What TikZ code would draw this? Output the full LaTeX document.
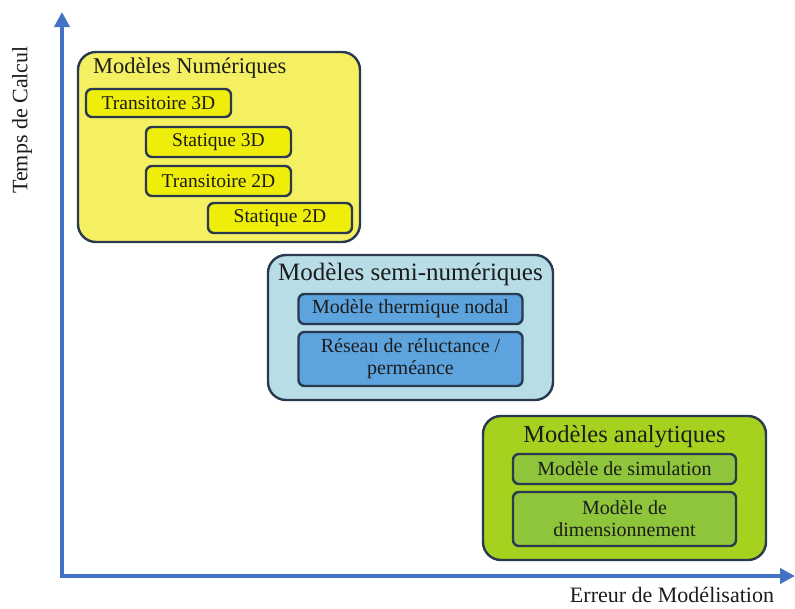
\documentclass[tikz,border=0pt]{standalone}
\usepackage{fontspec}
\setmainfont{Liberation Serif}
\usetikzlibrary{arrows.meta}

\definecolor{axisblue}{HTML}{4472C4}
\definecolor{edge}{HTML}{2A3850}
\definecolor{ink}{HTML}{1C1C1C}
\definecolor{yelOuter}{HTML}{F4F062}
\definecolor{yelInner}{HTML}{EEEE0A}
\definecolor{bluOuter}{HTML}{B8DDE6}
\definecolor{bluInner}{HTML}{5DA4DE}
\definecolor{grnOuter}{HTML}{A4D21E}
\definecolor{grnInner}{HTML}{8EC53A}

\tikzset{
  group/.style={draw=edge, line width=2.4pt, rounded corners=18pt, inner sep=0pt},
  item/.style={draw=edge, line width=2.4pt, rounded corners=6pt, inner sep=0pt,
    text=ink, align=center},
  grouptitle/.style={text=ink, inner sep=0pt},
  axis/.style={draw=axisblue, line width=4.5pt,
    {Triangle[length=15pt,width=15pt]}-{Triangle[length=15pt,width=15pt]}},
}

\begin{document}
\begin{tikzpicture}[x=1pt,y=-1pt]
\useasboundingbox (0,0) rectangle (795,608);

% axes
\coordinate (ytip) at (62,12);
\coordinate (orig) at (62,576);
\coordinate (xtip) at (795,576);
\draw[axis] (ytip) -- (orig) -- (xtip);
\node[rotate=90, text=ink, font=\fontsize{22}{24}\selectfont] (ylab) at (22,120) {Temps de Calcul};
\node[text=ink, font=\fontsize{22}{24}\selectfont] (xlab) at (672,595) {Erreur de Modélisation};

% numerical models
\node[group, fill=yelOuter, minimum width=282pt, minimum height=190pt] (num) at (219,147) {};
\node[grouptitle, anchor=west, font=\fontsize{22.5}{25}\selectfont] (numt) at (93,68) {Modèles Numériques};
\node[item, fill=yelInner, minimum width=145pt, minimum height=28pt, font=\fontsize{19.5}{22}\selectfont] (t3d) at (158.5,103) {Transitoire 3D};
\node[item, fill=yelInner, minimum width=145pt, minimum height=30pt, font=\fontsize{19.5}{22}\selectfont] (s3d) at (218.5,142) {Statique 3D};
\node[item, fill=yelInner, minimum width=145pt, minimum height=30pt, font=\fontsize{19.5}{22}\selectfont] (t2d) at (218.5,181) {Transitoire 2D};
\node[item, fill=yelInner, minimum width=144pt, minimum height=30pt, font=\fontsize{19.5}{22}\selectfont] (s2d) at (280,218) {Statique 2D};

% semi-numerical models
\node[group, fill=bluOuter, minimum width=285pt, minimum height=145pt] (semi) at (410.5,327.5) {};
\node[grouptitle, font=\fontsize{25}{28}\selectfont] (semit) at (410.5,274) {Modèles semi-numériques};
\node[item, fill=bluInner, minimum width=224pt, minimum height=30pt, font=\fontsize{20}{22}\selectfont] (nodal) at (410.5,309) {Modèle thermique nodal};
\node[item, fill=bluInner, minimum width=224pt, minimum height=54pt, font=\fontsize{20}{22}\selectfont] (reseau) at (410.5,359) {Réseau de réluctance /\\perméance};

% analytical models
\node[group, fill=grnOuter, minimum width=283pt, minimum height=144pt] (ana) at (624.5,488) {};
\node[grouptitle, font=\fontsize{24.5}{27}\selectfont] (anat) at (624.5,437) {Modèles analytiques};
\node[item, fill=grnInner, minimum width=223pt, minimum height=30pt, font=\fontsize{20}{22}\selectfont] (sim) at (624.5,469) {Modèle de simulation};
\node[item, fill=grnInner, minimum width=223pt, minimum height=54pt, font=\fontsize{20}{22}\selectfont] (dim) at (624.5,519) {Modèle de\\dimensionnement};
\end{tikzpicture}
\end{document}
